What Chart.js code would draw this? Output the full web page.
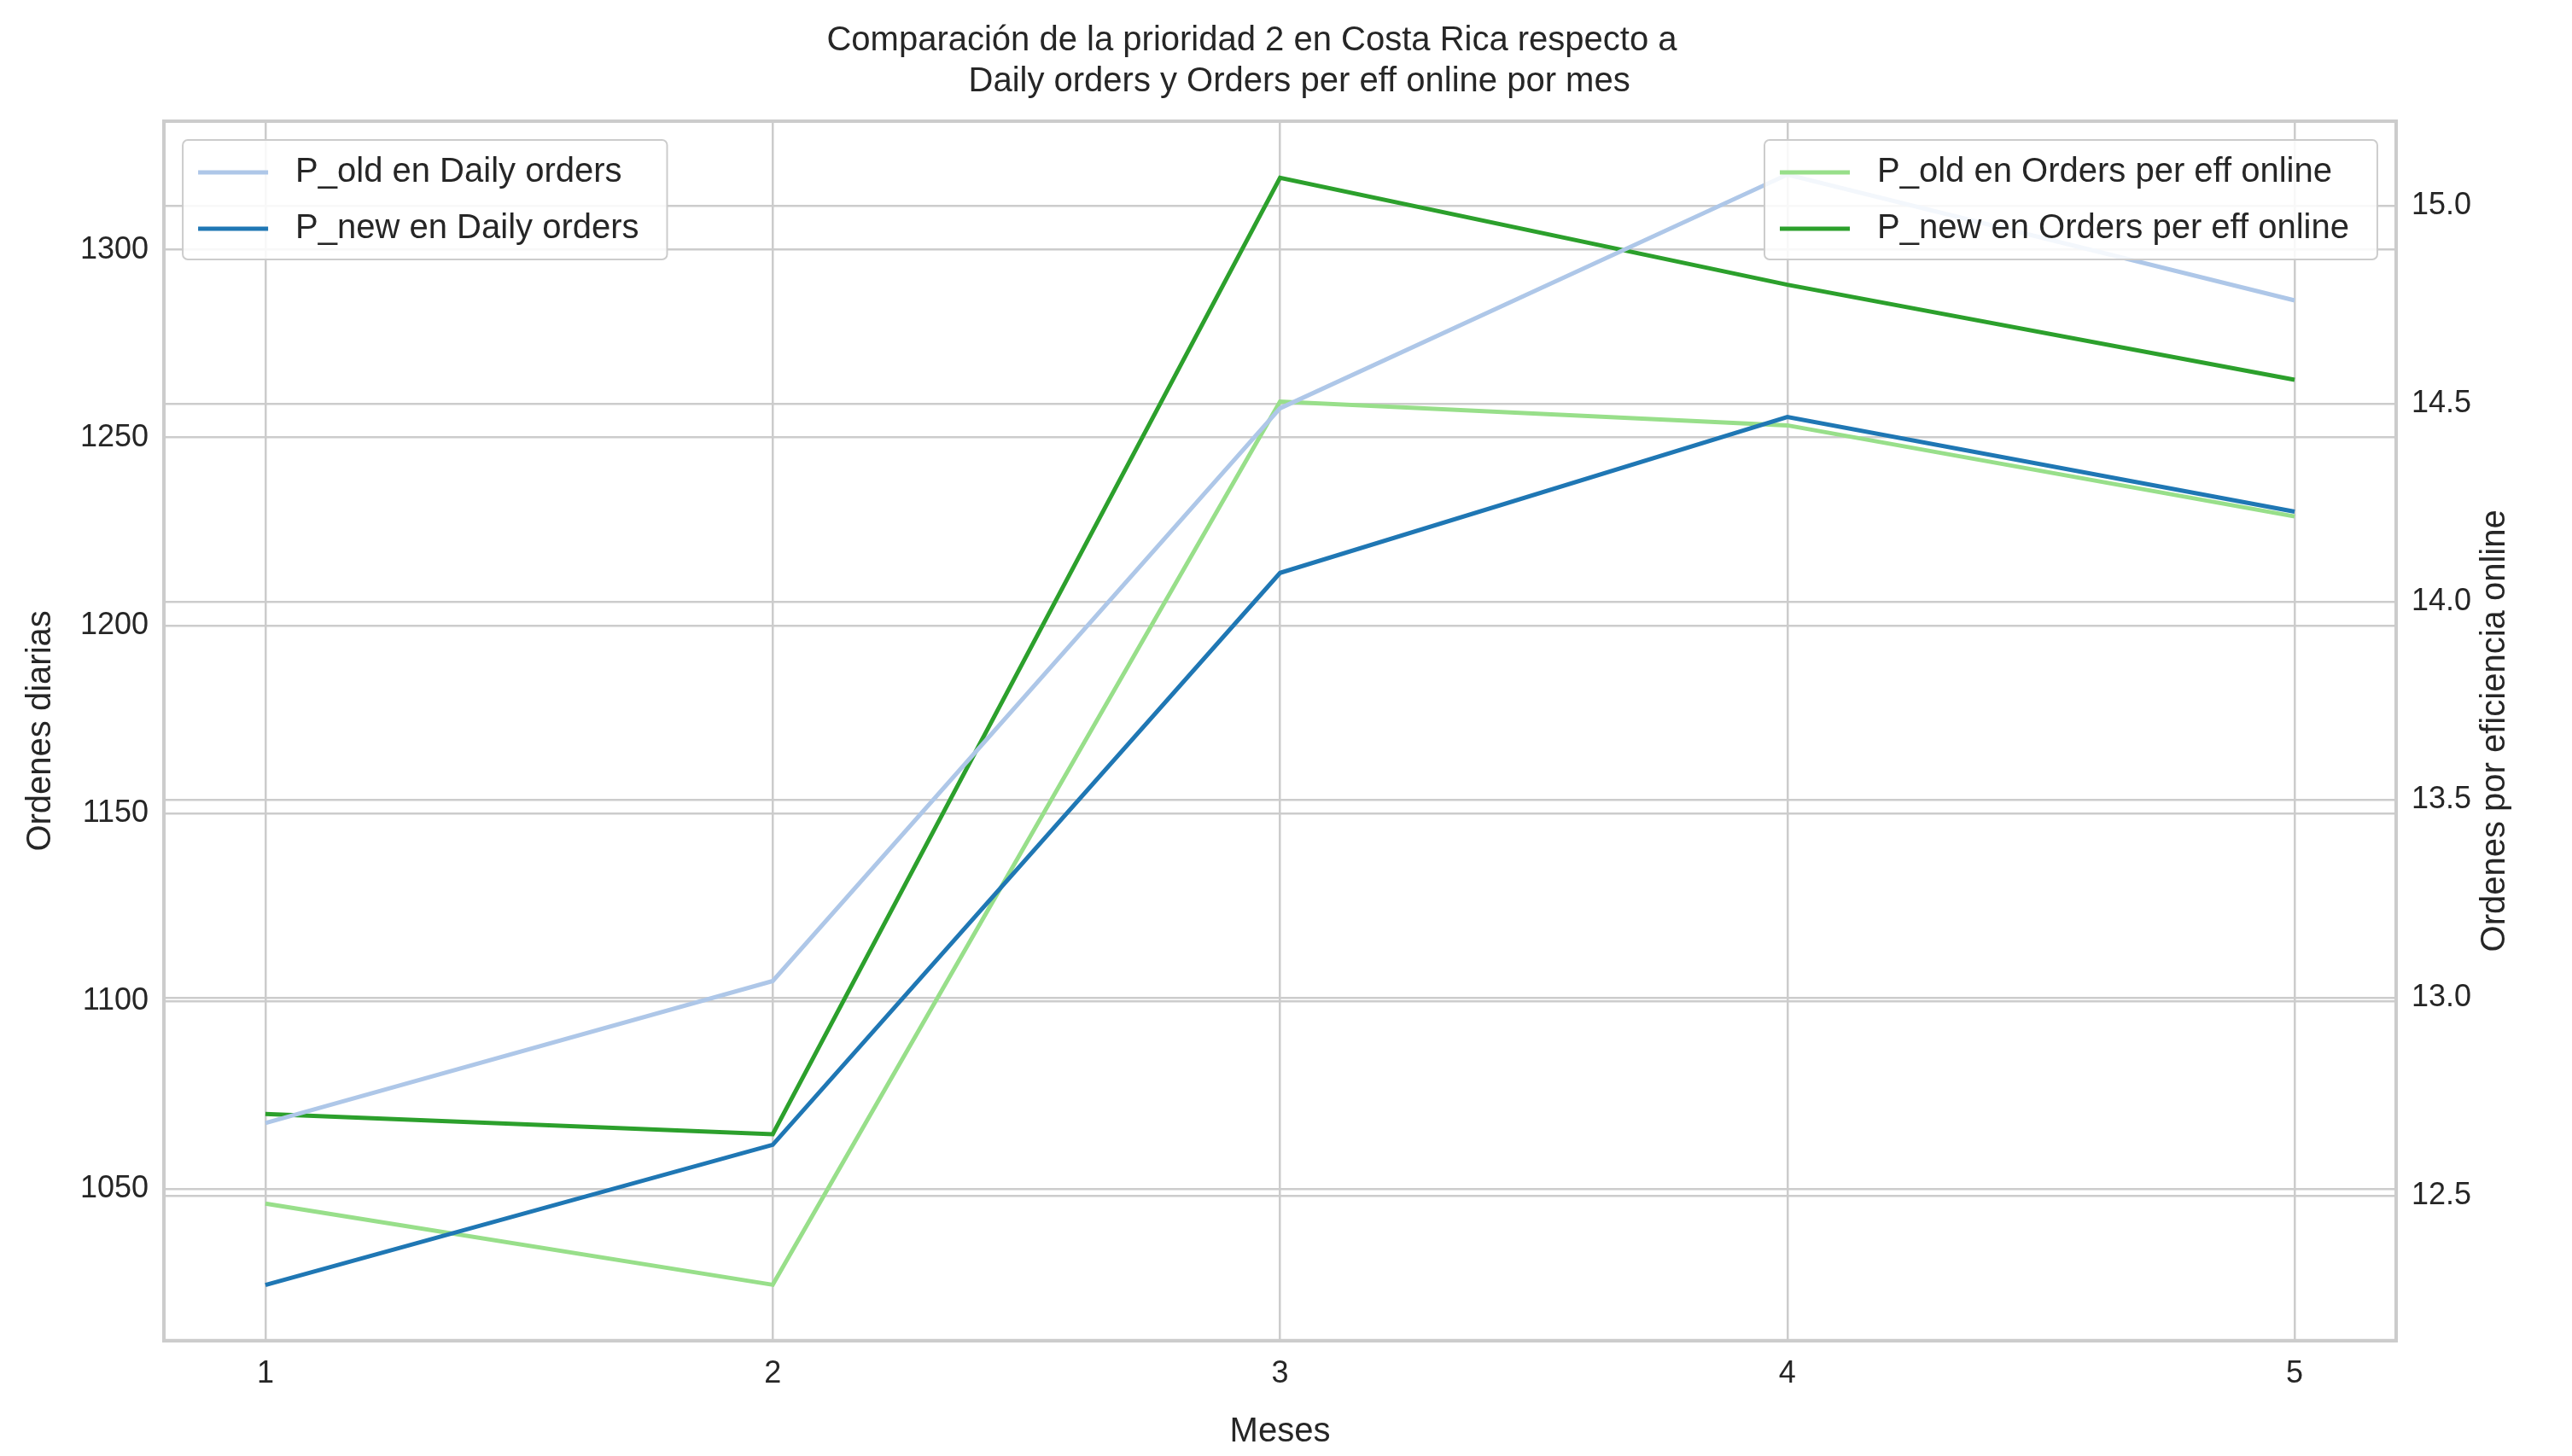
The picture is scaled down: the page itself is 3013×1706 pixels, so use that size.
<!DOCTYPE html>
<html>
<head>
<meta charset="utf-8">
<script src="https://cdn.jsdelivr.net/npm/chart.js@4.4.1/dist/chart.umd.min.js"></script>
<style>
  html, body { margin: 0; padding: 0; background: #fff; }
  #wrap { width: 3013px; height: 1706px; }
</style>
</head>
<body>
<div id="wrap"><canvas id="chart"></canvas></div>
<script>
// Values
var months = [1, 2, 3, 4, 5];
var oldDaily = [1067.6, 1105.4, 1257.8, 1320.0, 1286.5];
var newDaily = [1024.5, 1061.8, 1214.0, 1255.5, 1230.3];
var oldEff = [12.48, 12.275, 14.505, 14.445, 14.215];
var newEff = [12.706, 12.655, 15.07, 14.80, 14.56];
var dailyTicks = [1050, 1100, 1150, 1200, 1250, 1300];
var effTicks = [12.5, 13.0, 13.5, 14.0, 14.5, 15.0];

function pts(vals) {
    return months.map(function(m, i) { return { x: m, y: vals[i] }; });
}

var FONT = 'Liberation Sans';
var RIGHT_TITLE = 'Ordenes por eficiencia online';

// Frame, right axis title and the two matplotlib-style legend boxes
var extras = {
    id: 'extras',
    afterDraw: function(chart) {
        var ctx = chart.ctx, area = chart.chartArea;
        ctx.save();
        ctx.strokeStyle = '#cccccc';
        ctx.lineWidth = 4;
        ctx.strokeRect(area.left, area.top, area.right - area.left, area.bottom - area.top);

        ctx.font = '40px ' + FONT;
        ctx.fillStyle = '#262626';
        ctx.textAlign = 'center';
        ctx.textBaseline = 'middle';
        var y2 = chart.scales.y2;
        ctx.translate(y2.right + 10, (area.top + area.bottom) / 2);
        ctx.rotate(-Math.PI / 2);
        ctx.fillText(RIGHT_TITLE, 0, 0);
        ctx.restore();

        ctx.save();
        ctx.font = '40px ' + FONT;
        var groups = [
            { items: [0, 1], align: 'left' },
            { items: [2, 3], align: 'right' }
        ];
        groups.forEach(function(g) {
            var w = 0;
            g.items.forEach(function(i) {
                w = Math.max(w, ctx.measureText(chart.data.datasets[i].label).width);
            });
            var boxW = w + 165, boxH = 140;
            var x = g.align === 'left' ? area.left + 22 : area.right - 22 - boxW;
            var y = area.top + 22;
            ctx.fillStyle = 'rgba(255,255,255,0.85)';
            ctx.strokeStyle = '#cccccc';
            ctx.lineWidth = 2;
            ctx.beginPath();
            ctx.roundRect(x, y, boxW, boxH, 6);
            ctx.fill();
            ctx.stroke();
            g.items.forEach(function(i, k) {
                var ds = chart.data.datasets[i];
                var ly = y + 38 + k * 66;
                ctx.strokeStyle = ds.borderColor;
                ctx.lineWidth = 5;
                ctx.beginPath();
                ctx.moveTo(x + 18, ly);
                ctx.lineTo(x + 100, ly);
                ctx.stroke();
                ctx.fillStyle = '#262626';
                ctx.textBaseline = 'middle';
                ctx.fillText(ds.label, x + 132, ly);
            });
        });
        ctx.restore();
    }
};

document.addEventListener('DOMContentLoaded', function() {
    var ctx = document.getElementById('chart').getContext('2d');
    new Chart(ctx, {
        type: 'line',
        data: {
            datasets: [
                { label: 'P_old en Daily orders', data: pts(oldDaily), borderColor: '#aec7e8', yAxisID: 'y' },
                { label: 'P_new en Daily orders', data: pts(newDaily), borderColor: '#1f77b4', yAxisID: 'y' },
                { label: 'P_old en Orders per eff online', data: pts(oldEff), borderColor: '#98df8a', yAxisID: 'y2' },
                { label: 'P_new en Orders per eff online', data: pts(newEff), borderColor: '#2ca02c', yAxisID: 'y2' }
            ]
        },
        plugins: [extras],
        options: {
            responsive: true,
            maintainAspectRatio: false,
            animation: false,
            devicePixelRatio: 1,
            elements: {
                line: { borderWidth: 5, tension: 0 },
                point: { radius: 0 }
            },
            layout: { padding: { left: 20, right: 100, top: 10, bottom: 0 } },
            plugins: {
                legend: { display: false },
                tooltip: { enabled: false },
                title: {
                    display: true,
                    text: ['Comparación de la prioridad 2 en Costa Rica respecto a',
                           '          Daily orders y Orders per eff online por mes'],
                    color: '#262626',
                    font: { family: FONT, size: 40, weight: 'normal' },
                    padding: { top: 14, bottom: 22 }
                }
            },
            scales: {
                x: {
                    type: 'linear', min: 0.8, max: 5.2,
                    afterBuildTicks: function(axis) { axis.ticks = months.map(function(m) { return { value: m }; }); },
                    ticks: { color: '#262626', font: { family: FONT, size: 36 }, padding: 18 },
                    grid: { color: '#cccccc', lineWidth: 2.5, tickLength: 0 },
                    border: { color: '#cccccc', width: 4 },
                    title: { display: true, text: 'Meses', color: '#262626', font: { family: FONT, size: 40 }, padding: 4 }
                },
                y: {
                    position: 'left', min: 1009.7, max: 1334.2,
                    afterBuildTicks: function(axis) { axis.ticks = dailyTicks.map(function(v) { return { value: v }; }); },
                    ticks: { color: '#262626', font: { family: FONT, size: 36 }, padding: 18,
                        callback: function(v) { return String(v); } },
                    grid: { color: '#cccccc', lineWidth: 2.5, tickLength: 0 },
                    border: { color: '#cccccc', width: 4 },
                    title: { display: true, text: 'Ordenes diarias', color: '#262626', font: { family: FONT, size: 40 } }
                },
                y2: {
                    position: 'right', min: 12.134, max: 15.213,
                    afterBuildTicks: function(axis) { axis.ticks = effTicks.map(function(v) { return { value: v }; }); },
                    ticks: { color: '#262626', font: { family: FONT, size: 36 }, padding: 18,
                        callback: function(v) { return v.toFixed(1); } },
                    grid: { color: '#cccccc', lineWidth: 2.5, tickLength: 0 },
                    border: { color: '#cccccc', width: 4 }
                }
            }
        }
    });
});
</script>
</body>
</html>
